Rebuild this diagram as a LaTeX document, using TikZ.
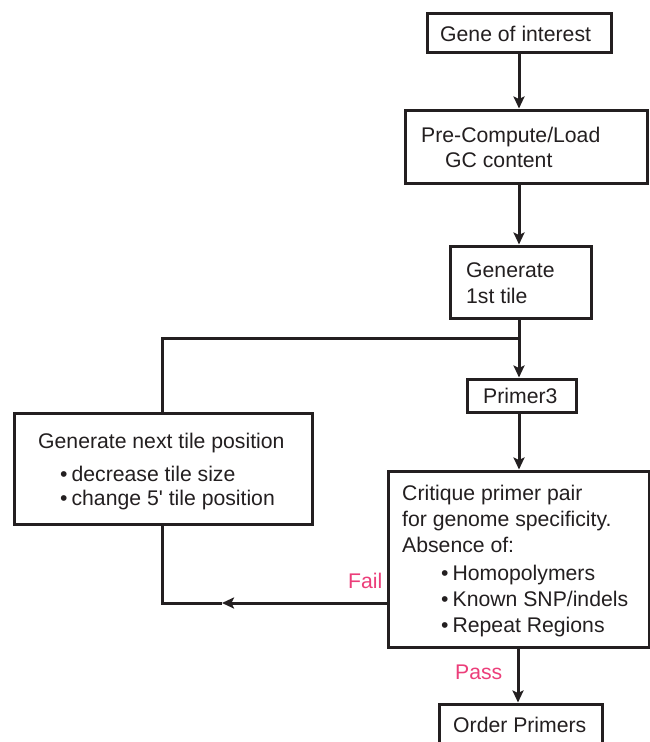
\documentclass[tikz,border=0pt]{standalone}
\usepackage{fontspec}
\setmainfont{Liberation Sans}[Ligatures=TeXOff]
\usetikzlibrary{arrows.meta}
\definecolor{ink}{HTML}{231F20}
\definecolor{lbl}{HTML}{EC3E7A}
\newcommand{\blt}{\textbullet\hspace{4pt}}
\begin{document}
\begin{tikzpicture}[x=1pt,y=-1pt,
  box/.style={draw=ink, line width=3pt, rectangle, inner sep=0pt, fill=white},
  txt/.style={anchor=base west, inner sep=0pt, text=ink, font=\fontsize{21.2}{25}\selectfont},
  lab/.style={anchor=base west, inner sep=0pt, text=lbl, font=\fontsize{21.2}{25}\selectfont},
  conn/.style={draw=ink, line width=3pt},
  arr/.style={conn, -{Stealth[length=12pt,width=11pt,inset=2.5pt]}}]
\clip (0,0) rectangle (650,742);
\fill[white] (0,0) rectangle (650,742);
% boxes
\node[box, minimum width=184, minimum height=39] (b1) at (519,32.5) {};
\node[box, minimum width=242, minimum height=73] (b2) at (526,146.5) {};
\node[box, minimum width=141, minimum height=72] (b3) at (520.5,282) {};
\node[box, minimum width=109, minimum height=33] (p3) at (521.5,395.5) {};
\node[box, minimum width=298, minimum height=111] (gn) at (163,468.5) {};
\node[box, minimum width=261, minimum height=176] (cr) at (518.5,559) {};
\node[box, minimum width=163, minimum height=70] (op) at (520.5,739) {};
% texts
\node[txt] (t1) at (440,41) {Gene of interest};
\node[txt] (t2a) at (421,142) {Pre-Compute/Load};
\node[txt] (t2b) at (445,167) {GC content};
\node[txt] (t3a) at (466,277) {Generate};
\node[txt] (t3b) at (466,303) {1st tile};
\node[txt] (t4) at (483,403) {Primer3};
\node[txt] (t5a) at (38,448) {Generate next tile position};
\node[txt] (t5b) at (60,481) {\blt decrease tile size};
\node[txt] (t5c) at (60,505) {\blt change 5' tile position};
\node[txt] (t6a) at (402,500) {Critique primer pair};
\node[txt] (t6b) at (402,526) {for genome specificity.};
\node[txt] (t6c) at (402,552) {Absence of:};
\node[txt] (t6d) at (441,580) {\blt Homopolymers};
\node[txt] (t6e) at (441,606) {\blt Known SNP/indels};
\node[txt] (t6f) at (441,632) {\blt Repeat Regions};
\node[txt] (t7) at (453,732) {Order Primers};
\node[lab] (fail) at (348,588) {Fail};
\node[lab] (pass) at (455,679) {Pass};
% connectors
\coordinate (j) at (519,338);
\coordinate (fl) at (388,603);
\coordinate (fm) at (222,603);
\coordinate (fc) at (162,603);
\coordinate (jc) at (162,338);
\draw[arr] (519,0 |- b1.south) -- (519,0 |- b2.north);
\draw[arr] (519,0 |- b2.south) -- (519,0 |- b3.north);
\draw[arr] (519,0 |- b3.south) -- (519,0 |- p3.north);
\draw[conn] (j) -- (jc) -- (gn.north -| jc);
\draw[arr] (519,0 |- p3.south) -- (519,0 |- cr.north);
\draw[arr] (fl) -- (fm);
\draw[conn] (fm) -- (fc) -- (gn.south -| fc);
\draw[arr] (518,0 |- cr.south) -- (518,0 |- op.north);
\end{tikzpicture}
\end{document}
